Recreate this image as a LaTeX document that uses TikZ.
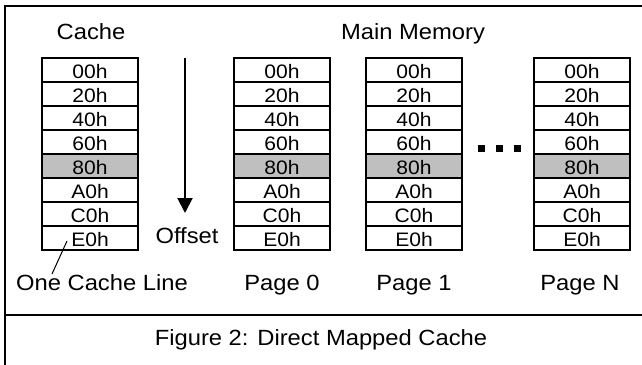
\documentclass[tikz,border=0pt]{standalone}
\usepackage{fontspec}
\setmainfont{Liberation Sans}[FakeStretch=1.08]
\usetikzlibrary{arrows.meta}
\definecolor{hl}{RGB}{191,191,191}
\begin{document}
\begin{tikzpicture}[x=1pt,y=-1pt,
  frame/.style={line width=2.2pt},
  cell/.style={draw, line width=1.7pt, minimum width=96pt, minimum height=24pt, inner sep=0pt,
    text height=17.5pt, text depth=0pt, font=\fontsize{19.5}{22}\selectfont},
  r0/.style={}, r1/.style={}, r2/.style={}, r3/.style={}, r4/.style={fill=hl},
  r5/.style={}, r6/.style={}, r7/.style={},
  lbl/.style={font=\fontsize{22}{25}\selectfont, inner sep=0pt, anchor=base},
  sq/.style={fill=black, minimum size=7pt, inner sep=0pt},
  leader/.style={line width=1pt},
  offarrow/.style={line width=2pt, -{Triangle[width=15pt,length=15pt]}}
]
\useasboundingbox (0,0) rectangle (642,364);
% frame
\draw[frame] (5,366) -- (5,6) -- (644,6);
\draw[frame] (5,315) -- (644,315);
% columns
\foreach \col/\cx in {c/90, p0/282, p1/414, pN/582}{
  \foreach \lab [count=\i from 0] in {00h,20h,40h,60h,80h,A0h,C0h,E0h}{
    \node[cell, r\i] (\col-\i) at (\cx, 70+24*\i) {\lab};
  }
}
% labels
\node[lbl] (cachelbl) at (91,39) {Cache};
\node[lbl] (mmlbl) at (413,39) {Main Memory};
\node[lbl] (ocl) at (102,290) {One Cache Line};
\node[lbl] (pg0) at (282,290) {Page 0};
\node[lbl] (pg1) at (414,290) {Page 1};
\node[lbl] (pgN) at (580,290) {Page N};
\node[lbl] (off) at (187,243) {Offset};
\node[lbl] (cap) at (321,345) {Figure 2: Direct Mapped Cache};
% offset arrow
\coordinate (atop) at (185,58);
\coordinate (abot) at (185,213);
\draw[offarrow] (atop) -- (abot);
% leader
\coordinate (lbot) at (52,274);
\coordinate (ltop) at (67,241);
\draw[leader] (lbot) -- (ltop);
% dots
\node[sq] (d1) at (481.5,148.5) {};
\node[sq] (d2) at (499.5,148.5) {};
\node[sq] (d3) at (517.5,148.5) {};
\end{tikzpicture}
\end{document}
